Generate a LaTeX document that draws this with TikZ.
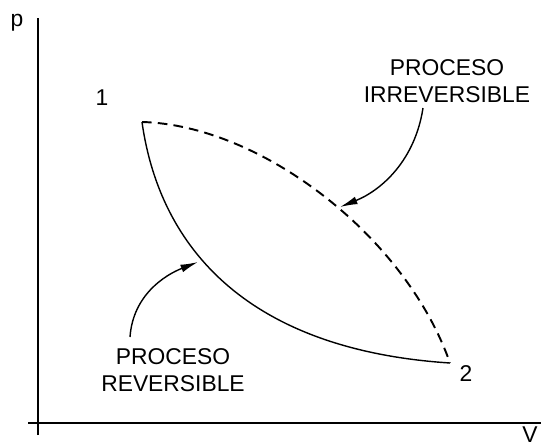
\documentclass[tikz,border=0pt]{standalone}
\usepackage{fontspec}
\setmainfont{Liberation Sans}
\usetikzlibrary{arrows.meta, positioning}

\tikzset{
    axe/.style={line width=0.9pt},
    courbe/.style={line width=0.8pt},
    tirets/.style={line width=1.1pt, dash pattern=on 5.5pt off 3.5pt},
    etiquette/.style={font=\fontsize{13}{15}\selectfont, inner sep=0pt, align=center},
    fleche/.style={-{Latex[length=10pt, width=4.5pt]}, line width=0.8pt}
}

\begin{document}
\begin{tikzpicture}[
        x=0.02cm,
        y=-0.02cm
    ]
        \useasboundingbox (0,0) rectangle (541,447);

        % --- Axes ---
        \coordinate (Ybas)  at (38,435);
        \coordinate (Yhaut) at (38,18);
        \coordinate (Xg)    at (28,423);
        \coordinate (Xd)    at (541,423);
        \draw[axe] (Ybas) -- (Yhaut);
        \draw[axe] (Xg) -- (Xd);
        \node[etiquette] (p) at (17,23) {p};
        \node[etiquette, anchor=south east] (V) at (538,443) {V};

        % --- Etats 1 et 2 ---
        \coordinate (E1) at (142,122);
        \coordinate (E2) at (450,363);
        \node[etiquette] (n1) at (102,98) {1};
        \node[etiquette] (n2) at (466,374) {2};

        % --- Processus reversible (trait plein) ---
        \draw[courbe] (E1) .. controls (160,250) and (250,350) .. (E2);

        % --- Processus irreversible (tirets) ---
        \draw[tirets] (E1) .. controls (260,125) and (405,235) .. (E2);

        % --- Legendes ---
        \coordinate (Trev) at (198,262);
        \coordinate (Tirr) at (340,207);
        \node[etiquette] (Lirr) at (447,81) {PROCESO\\IRREVERSIBLE};
        \node[etiquette] (Lrev) at (173,370) {PROCESO\\REVERSIBLE};
        \draw[fleche] (130,337) .. controls (133,295) and (165,275) .. (Trev);
        \draw[fleche] (423,108) .. controls (415,160) and (382,190) .. (Tirr);

    \end{tikzpicture}
\end{document}
